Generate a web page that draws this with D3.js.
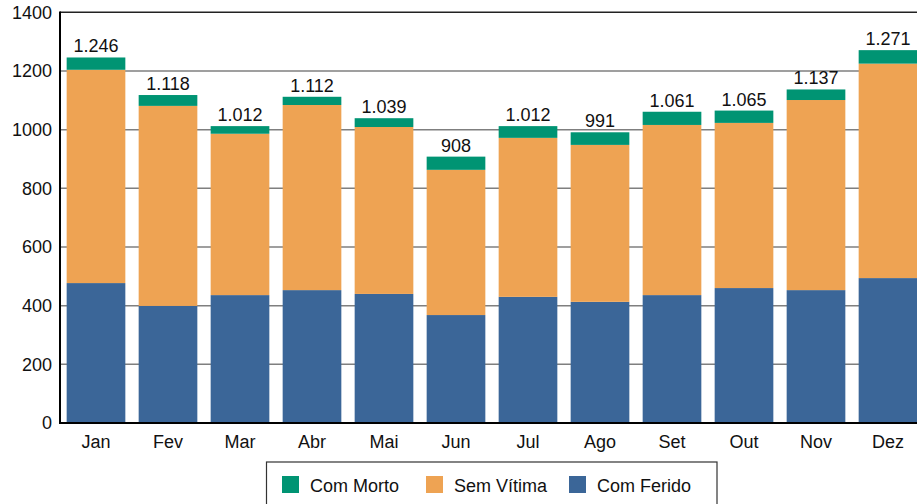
<!DOCTYPE html>
<html><head><meta charset="utf-8">
<script src="https://cdn.jsdelivr.net/npm/d3@7"></script>
<style>body{margin:0;background:#fff}svg{display:block;font-family:"Liberation Sans",Arial,sans-serif}</style>
</head><body><svg id="c" width="917" height="504"></svg>
<script>
const months = ["Jan","Fev","Mar","Abr","Mai","Jun","Jul","Ago","Set","Out","Nov","Dez"];
const comFerido = [477,399,436,453,440,368,430,413,436,460,453,494];
const semVitima = [727,682,550,631,569,495,542,535,580,563,648,731];
const comMorto  = [42,37,26,28,30,45,40,43,45,42,36,46];
const totals    = [1246,1118,1012,1112,1039,908,1012,991,1061,1065,1137,1271];
const yTicks = [0,200,400,600,800,1000,1200,1400];
const seriesNames = ["Com Morto","Sem Vítima","Com Ferido"];
const colors = {"Com Ferido":"#3b6698","Sem Vítima":"#eea353","Com Morto":"#009473"};

const svg = d3.select("#c");
const L = 60, T = 12.3, B = 423, R = 924;
const FS = 18;
const x = d3.scaleBand().domain(months).range([L, R]).paddingInner(0.185).paddingOuter(0.0925);
const y = d3.scaleLinear().domain([0,1400]).range([B, T]);

const rows = months.map((m,i)=>({m, "Com Ferido":comFerido[i], "Sem Vítima":semVitima[i], "Com Morto":comMorto[i], total:totals[i]}));
const stack = d3.stack().keys(["Com Ferido","Sem Vítima","Com Morto"])(rows);

// gridlines
svg.append("g").selectAll("line").data(yTicks.filter(t=>t>0 && t<1400)).join("line")
  .attr("x1", L).attr("x2", 917).attr("y1", d=>y(d)).attr("y2", d=>y(d))
  .attr("stroke", "#7f7f7f").attr("stroke-width", 1.5);
// top border
svg.append("line").attr("x1", L).attr("x2", 917).attr("y1", y(1400)).attr("y2", y(1400))
  .attr("stroke", "#222").attr("stroke-width", 1.5);

// bars
svg.append("g").selectAll("g").data(stack).join("g")
  .attr("fill", d=>colors[d.key])
  .selectAll("rect").data(d=>d).join("rect")
  .attr("x", d=>x(d.data.m)).attr("width", x.bandwidth())
  .attr("y", d=>y(d[1])).attr("height", d=>y(d[0])-y(d[1]));

// axes lines
svg.append("line").attr("x1", L).attr("x2", L).attr("y1", y(1400)-0.7).attr("y2", B+1)
  .attr("stroke", "#000").attr("stroke-width", 2);
svg.append("line").attr("x1", L).attr("x2", 917).attr("y1", B).attr("y2", B)
  .attr("stroke", "#000").attr("stroke-width", 2);

// y tick labels
const yAxis = d3.axisLeft(y).tickValues(yTicks).tickSize(0).tickPadding(8).tickFormat(d3.format("d"));
const ga = svg.append("g").attr("transform", `translate(${L},0)`).call(yAxis);
ga.select(".domain").remove();
ga.selectAll("text").attr("font-size", FS).attr("fill", "#111").attr("font-family", "Liberation Sans, Arial, sans-serif");

// x tick labels
const xAxis = d3.axisBottom(x).tickSize(0).tickPadding(12);
const gx = svg.append("g").attr("transform", `translate(0,${B})`).call(xAxis);
gx.select(".domain").remove();
gx.selectAll("text").attr("font-size", FS).attr("fill", "#111").attr("font-family", "Liberation Sans, Arial, sans-serif");

// value labels
const fmt = v => d3.format(",")(v).replace(/,/g, ".");
svg.append("g").selectAll("text").data(rows).join("text")
  .attr("x", d=>x(d.m)+x.bandwidth()/2).attr("y", d=>y(d.total)-5)
  .attr("text-anchor", "middle").attr("font-size", FS).attr("fill", "#111")
  .text(d=>fmt(d.total));

// legend
const lg = svg.append("g");
lg.append("rect").attr("x", 266.5).attr("y", 462).attr("width", 450.5).attr("height", 60)
  .attr("fill", "#fff").attr("stroke", "#333").attr("stroke-width", 1.2);
const lx = [282, 426, 569];
seriesNames.forEach((n,i)=>{
  lg.append("rect").attr("x", lx[i]).attr("y", 476).attr("width", 17).attr("height", 17).attr("fill", colors[n]);
  lg.append("text").attr("x", lx[i]+28).attr("y", 491.5).attr("font-size", FS).attr("fill", "#111").text(n);
});
</script></body></html>
